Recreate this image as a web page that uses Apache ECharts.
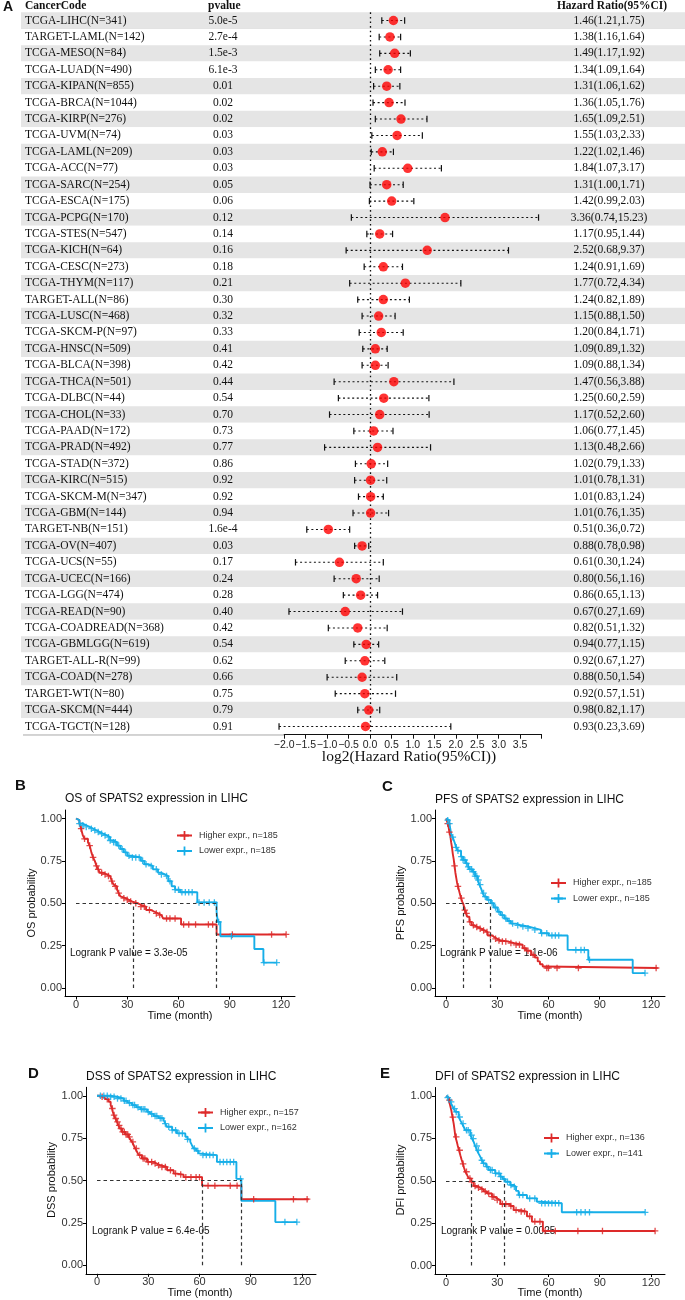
<!DOCTYPE html>
<html><head><meta charset="utf-8">
<script src="https://cdn.jsdelivr.net/npm/echarts@6/dist/echarts.min.js"></script>
<style>html,body{margin:0;padding:0;background:#fff}#c{width:685px;height:1300px}</style>
</head><body><div id="c"></div>
<script>
// ---------- Forest plot data ----------
const cancerCodes = ["TCGA-LIHC(N=341)","TARGET-LAML(N=142)","TCGA-MESO(N=84)","TCGA-LUAD(N=490)","TCGA-KIPAN(N=855)","TCGA-BRCA(N=1044)","TCGA-KIRP(N=276)","TCGA-UVM(N=74)","TCGA-LAML(N=209)","TCGA-ACC(N=77)","TCGA-SARC(N=254)","TCGA-ESCA(N=175)","TCGA-PCPG(N=170)","TCGA-STES(N=547)","TCGA-KICH(N=64)","TCGA-CESC(N=273)","TCGA-THYM(N=117)","TARGET-ALL(N=86)","TCGA-LUSC(N=468)","TCGA-SKCM-P(N=97)","TCGA-HNSC(N=509)","TCGA-BLCA(N=398)","TCGA-THCA(N=501)","TCGA-DLBC(N=44)","TCGA-CHOL(N=33)","TCGA-PAAD(N=172)","TCGA-PRAD(N=492)","TCGA-STAD(N=372)","TCGA-KIRC(N=515)","TCGA-SKCM-M(N=347)","TCGA-GBM(N=144)","TARGET-NB(N=151)","TCGA-OV(N=407)","TCGA-UCS(N=55)","TCGA-UCEC(N=166)","TCGA-LGG(N=474)","TCGA-READ(N=90)","TCGA-COADREAD(N=368)","TCGA-GBMLGG(N=619)","TARGET-ALL-R(N=99)","TCGA-COAD(N=278)","TARGET-WT(N=80)","TCGA-SKCM(N=444)","TCGA-TGCT(N=128)"];
const pvalues = ["5.0e-5","2.7e-4","1.5e-3","6.1e-3","0.01","0.02","0.02","0.03","0.03","0.03","0.05","0.06","0.12","0.14","0.16","0.18","0.21","0.30","0.32","0.33","0.41","0.42","0.44","0.54","0.70","0.73","0.77","0.86","0.92","0.92","0.94","1.6e-4","0.03","0.17","0.24","0.28","0.40","0.42","0.54","0.62","0.66","0.75","0.79","0.91"];
const hr   = [1.46,1.38,1.49,1.34,1.31,1.36,1.65,1.55,1.22,1.84,1.31,1.42,3.36,1.17,2.52,1.24,1.77,1.24,1.15,1.20,1.09,1.09,1.47,1.25,1.17,1.06,1.13,1.02,1.01,1.01,1.01,0.51,0.88,0.61,0.80,0.86,0.67,0.82,0.94,0.92,0.88,0.92,0.98,0.93];
const hrLo = [1.21,1.16,1.17,1.09,1.06,1.05,1.09,1.03,1.02,1.07,1.00,0.99,0.74,0.95,0.68,0.91,0.72,0.82,0.88,0.84,0.89,0.88,0.56,0.60,0.52,0.77,0.48,0.79,0.78,0.83,0.76,0.36,0.78,0.30,0.56,0.65,0.27,0.51,0.77,0.67,0.50,0.57,0.82,0.23];
const hrHi = [1.75,1.64,1.92,1.64,1.62,1.76,2.51,2.33,1.46,3.17,1.71,2.03,15.23,1.44,9.37,1.69,4.34,1.89,1.50,1.71,1.32,1.34,3.88,2.59,2.60,1.45,2.66,1.33,1.31,1.24,1.35,0.72,0.98,1.24,1.16,1.13,1.69,1.32,1.15,1.27,1.54,1.51,1.17,3.69];
const hrText = hr.map((v,i)=>v.toFixed(2)+"("+hrLo[i].toFixed(2)+","+hrHi[i].toFixed(2)+")");
const forestTicks = [-2.0,-1.5,-1.0,-0.5,0.0,0.5,1.0,1.5,2.0,2.5,3.0,3.5,4.0];
const forestTickLabels = ["\u22122.0","\u22121.5","\u22121.0","\u22120.5","0.0","0.5","1.0","1.5","2.0","2.5","3.0","3.5",""];

// ---------- KM data: [time(month), survival] step points ----------
const osHigh = [[0,1],[1,0.99],[2,0.97],[3,0.94],[4,0.9],[5,0.88],[7,0.86],[8,0.84],[9,0.8],[10,0.77],[11,0.75],[12,0.72],[13,0.7],[14,0.68],[16,0.67],[18,0.66],[20,0.65],[21,0.63],[22,0.61],[23,0.6],[24,0.58],[25,0.56],[26,0.54],[27,0.53],[29,0.52],[31,0.51],[33,0.5],[36,0.49],[38,0.48],[41,0.46],[44,0.45],[46,0.44],[48,0.43],[50,0.42],[51,0.41],[61.5,0.375],[82.3,0.316],[123,0.316]];
const osLow = [[0,1],[1,0.99],[2,0.97],[4,0.96],[6,0.95],[8,0.94],[10,0.93],[12,0.92],[14,0.91],[16,0.9],[18,0.89],[20,0.87],[22,0.86],[24,0.84],[26,0.82],[28,0.8],[30,0.78],[32,0.77],[38,0.75],[40,0.73],[42,0.72],[45,0.7],[48,0.68],[50,0.67],[52,0.66],[54,0.63],[56,0.6],[58,0.58],[61,0.565],[71,0.505],[82.3,0.45],[83,0.39],[84.5,0.305],[104.4,0.23],[109.7,0.15],[117.5,0.15]];
const osHighCens = [3,5,8,10,12,13,15,17,19,21,23,25,28,30,32,35,38,40,43,47,49,53,55,58,63,66,70,77.5,80,91.5,114.5,123];
const osLowCens = [2,4,6,9,11,13,15,17,19,20,22,23,25,27,29,31,33,35,37,39,41,44,47,50,53,55,58,60,62,64,66,68,72,75,78,81,83.5,91,110,117.5];
const pfsHigh = [[0,1],[1,0.97],[1.5,0.95],[2,0.92],[2.5,0.9],[3,0.86],[3.5,0.83],[4,0.79],[4.5,0.76],[5,0.72],[5.5,0.68],[6,0.65],[6.5,0.62],[7,0.6],[8,0.56],[8.8,0.53],[9.5,0.51],[10.3,0.49],[11,0.46],[11.7,0.44],[12.5,0.42],[13.7,0.39],[15,0.37],[16.6,0.36],[18.5,0.35],[20.5,0.34],[22.5,0.33],[24.4,0.31],[27,0.3],[28.3,0.29],[30,0.28],[32.2,0.275],[36,0.265],[40,0.255],[44.9,0.235],[47,0.22],[49.8,0.196],[52,0.18],[53.7,0.157],[55,0.14],[56.6,0.127],[58,0.118],[123.9,0.118]];
const pfsLow = [[0,1],[1,0.99],[2,0.97],[2.5,0.94],[3,0.91],[3.9,0.89],[5,0.86],[5.9,0.83],[7,0.81],[8.8,0.775],[10,0.755],[11.7,0.735],[13,0.715],[14,0.7],[15.6,0.686],[17,0.66],[18.5,0.637],[19.5,0.61],[20.5,0.588],[21.5,0.56],[22.4,0.539],[24,0.52],[26.3,0.5],[28,0.475],[30.2,0.45],[32,0.43],[34.1,0.41],[36,0.395],[38,0.38],[41,0.37],[43.9,0.363],[48,0.353],[51.7,0.343],[55.6,0.323],[60,0.31],[71.2,0.225],[83.3,0.167],[109.3,0.088],[116.5,0.088]];
const pfsHighCens = [1,2,5,7,9,11,12,14,16,18,20,22,24,26,29,31,33,35,38,41,43,46,48,51,59,60,65,77.5,123];
const pfsLowCens = [1,2,4,6,7,9,10,11,12,13,14,15,16,17,18,19,20,22,23,25,27,29,31,33,35,37,39,42,45,48,52,56,59,62,64,66,76,79,81,84,116.5];
const dssHigh = [[0,1],[2,0.994],[4,0.985],[5,0.98],[6.8,0.965],[8,0.945],[8.8,0.925],[9.3,0.905],[9.8,0.886],[10.8,0.866],[11.7,0.846],[12.5,0.826],[13.3,0.807],[14.6,0.787],[16.5,0.772],[18.5,0.758],[19.5,0.743],[20.5,0.728],[21.5,0.708],[22.4,0.689],[23.4,0.67],[24.4,0.65],[26.3,0.63],[29.3,0.61],[33.2,0.6],[35,0.59],[37.1,0.58],[41,0.561],[44.9,0.541],[47,0.535],[50.7,0.52],[61.5,0.47],[84.5,0.39],[123.9,0.39]];
const dssLow = [[0,1],[7.8,0.994],[11.7,0.984],[15.6,0.97],[18,0.958],[20.5,0.945],[23,0.932],[25.4,0.92],[29.3,0.905],[31,0.893],[33.2,0.88],[36,0.868],[39,0.856],[40,0.836],[41,0.817],[44,0.797],[46.8,0.778],[51.7,0.758],[53,0.743],[54.6,0.728],[55.5,0.71],[56.6,0.689],[58,0.675],[59.5,0.66],[60.5,0.65],[70.2,0.61],[81.6,0.51],[84.5,0.38],[104.4,0.255],[117,0.255]];
const dssHighCens = [3,6,9,10,11,12,13,14,15,16,17,18,19,21,23,25,27,28,30,32,34,36,38,40,43,46,49,52,55,58,60,65,69,78,82,91.7,115,123];
const dssLowCens = [2,4,6,8,10,12,14,16,17,19,21,22,24,26,27,28,30,32,34,35,37,38,40,42,44,46,48,50,53,57,59,62,64,66,68,72,74,76,78,80,84,110,117];
const dfiHigh = [[0,1],[1,0.99],[1.6,0.975],[2.3,0.95],[3.1,0.916],[3.8,0.875],[4.5,0.837],[5,0.8],[5.5,0.759],[6.2,0.735],[6.8,0.71],[7.6,0.68],[8.4,0.65],[9.1,0.625],[9.9,0.6],[10.6,0.575],[11.3,0.553],[12.3,0.535],[13.3,0.514],[14.8,0.494],[16.2,0.469],[18,0.459],[20.1,0.449],[22,0.437],[24,0.425],[26.9,0.406],[28.5,0.396],[29.8,0.386],[31.8,0.363],[37.6,0.351],[39.6,0.327],[43.5,0.318],[47.4,0.29],[50.3,0.259],[56.7,0.204],[122.4,0.204]];
const dfiLow = [[0,1],[1,0.99],[1.6,0.984],[2.5,0.965],[3.5,0.945],[4.5,0.925],[5.5,0.906],[7.4,0.876],[8.4,0.856],[9.4,0.837],[10.4,0.817],[11.3,0.798],[14.2,0.769],[15.2,0.749],[16.2,0.729],[17.1,0.705],[18.1,0.68],[19.1,0.66],[20.1,0.641],[21,0.621],[22,0.602],[23.5,0.583],[24.9,0.563],[28.8,0.543],[31.8,0.524],[33.2,0.51],[34.7,0.494],[37.6,0.475],[39.6,0.465],[41,0.44],[42.5,0.416],[47.4,0.396],[53.2,0.376],[55.2,0.367],[67.8,0.314],[116.6,0.314]];
const dfiHighCens = [2,4,6,8,10,12,14,15,17,19,21,23,25,27,28,30,33,35,38,41,44,46,49,52,55,58,64,77.2,91.6,122.4];
const dfiLowCens = [1,3,5,6,8,10,12,13,15,16,18,19,21,22,24,26,27,29,31,32,34,36,38,40,43,45,49,52,56,58,60,62,64,66,76.5,79,81.5,84,116.6];

const kmTitles = ["OS of SPATS2 expression in LIHC","PFS of SPATS2 expression in LIHC","DSS of SPATS2 expression in LIHC","DFI of SPATS2 expression in LIHC"];
const kmYNames = ["OS probability","PFS probability","DSS probability","DFI probability"];
const kmHighNames = ["Higher expr., n=185","Higher expr., n=185","Higher expr., n=157","Higher expr., n=136"];
const kmLowNames = ["Lower expr., n=185","Lower expr., n=185","Lower expr., n=162","Lower expr., n=141"];
const kmLogrank = ["Logrank P value = 3.3e-05","Logrank P value = 1.1e-06","Logrank P value = 6.4e-05","Logrank P value = 0.0025"];
const kmMedians = [[33.5,82.3],[10.1,25.8],[61.5,84.5],[14.8,34.3]];
const kmXTicks = [0,30,60,90,120];
const kmYTicks = [0,0.25,0.5,0.75,1];
const panelLetters = ["A","B","C","D","E"];

// ---------- layout (positions / styles only) ----------
const SERIF = '"Liberation Serif","Times New Roman",serif';
const SANS = '"Liberation Sans",Arial,Helvetica,sans-serif';
const RED = '#dd2a2a', BLUE = '#16aee8';
const PLUS = 'path://M4,0H6V4H10V6H6V10H4V6H0V4H4Z';
const tblTop = 12.3, tblH = 722.4;
const kmLayout = [
  {left:65, top:810, letter:[15,786], title:[65,799], yname:[32,903], xname:[180,1016], leg:[176,831], lr:[70,953]},
  {left:435, top:810, letter:[382,787], title:[435,800], yname:[401,903], xname:[550,1016], leg:[550,878.5], lr:[440,953]},
  {left:86, top:1087.3, letter:[28,1074], title:[86,1077], yname:[52,1180], xname:[200,1293], leg:[197,1108], lr:[92,1231.5]},
  {left:435, top:1087.5, letter:[380,1074], title:[435,1077], yname:[401,1180], xname:[550,1293], leg:[543,1133.5], lr:[441,1231.5]}
];
const kmCurves = [[osHigh,osLow,osHighCens,osLowCens],[pfsHigh,pfsLow,pfsHighCens,pfsLowCens],[dssHigh,dssLow,dssHighCens,dssLowCens],[dfiHigh,dfiLow,dfiHighCens,dfiLowCens]];

function stepAt(curve, t){ let s = curve[0][1]; for (const p of curve){ if (p[0] <= t) s = p[1]; else break; } return s; }

const grid = [
  {left:21, right:0, top:tblTop, height:tblH},
  {left:223, width:1, top:tblTop, height:tblH},
  {left:609, width:1, top:tblTop, height:tblH},
  {left:284.2, width:257.4, top:tblTop, height:tblH}
];
const xAxis = [
  {gridIndex:0, type:'value', min:0, max:1, show:false},
  {gridIndex:1, type:'value', min:0, max:1, show:false},
  {gridIndex:2, type:'value', min:0, max:1, show:false},
  {gridIndex:3, type:'value', min:-2, max:4, position:'bottom',
   axisLine:{show:true, onZero:false, lineStyle:{color:'#111', width:1}},
   axisTick:{show:true, length:4, customValues:forestTicks, lineStyle:{color:'#111'}},
   splitLine:{show:false},
   axisLabel:{show:true, customValues:forestTicks, showMinLabel:true, showMaxLabel:true, hideOverlap:false,
     margin:5, fontFamily:SANS, fontSize:10.5, color:'#222',
     formatter:v=>{ const i = forestTicks.findIndex(t=>Math.abs(t-v)<1e-6); return i>=0 ? forestTickLabels[i] : ''; }}}
];
const catY = (gi, data, align, margin, extra) => Object.assign({gridIndex:gi, type:'category', data, inverse:true,
  axisLine:{show:false}, axisTick:{show:false},
  axisLabel:{inside:true, interval:0, align, margin, fontFamily:SERIF, fontSize:11.5, color:'#111'}}, extra||{});
const yAxis = [
  catY(0, cancerCodes, 'left', 4, {splitArea:{show:true, areaStyle:{color:['#e5e5e5','#ffffff']}}}),
  catY(1, pvalues, 'center', 0),
  catY(2, hrText, 'center', 0),
  {gridIndex:3, type:'category', data:cancerCodes, inverse:true, axisLine:{show:false}, axisTick:{show:false}, axisLabel:{show:false}}
];
const series = [
  {type:'custom', xAxisIndex:3, yAxisIndex:3, z:3,
   data: cancerCodes.map((n,i)=>[Math.log2(hrLo[i]), Math.log2(hrHi[i]), i]),
   encode:{x:[0,1], y:2},
   renderItem:(params, api)=>{
     const a = api.coord([api.value(0), api.value(2)]);
     const b = api.coord([api.value(1), api.value(2)]);
     const y = a[1], h = 3.2;
     return {type:'group', children:[
       {type:'line', shape:{x1:a[0], y1:y, x2:b[0], y2:y}, style:{stroke:'#111', lineWidth:1.1, lineDash:[2,2.6]}},
       {type:'line', shape:{x1:a[0], y1:y-h, x2:a[0], y2:y+h}, style:{stroke:'#111', lineWidth:1.2}},
       {type:'line', shape:{x1:b[0], y1:y-h, x2:b[0], y2:y+h}, style:{stroke:'#111', lineWidth:1.2}}
     ]};
   }},
  {type:'scatter', xAxisIndex:3, yAxisIndex:3, z:5, symbolSize:9.5,
   itemStyle:{color:'#ff0000'},
   data: cancerCodes.map((n,i)=>[Math.log2(hr[i]), i]),
   markLine:{silent:true, symbol:'none', label:{show:false}, z:1,
     lineStyle:{color:'#111', type:[1.6,3], width:1.3}, data:[{xAxis:0}]}}
];
const legend = [];
const graphic = [];
const txt = (x,y,text,font,align,extra)=>Object.assign({type:'text', x, y, style:{text, font, fill:'#111', align:align||'left', verticalAlign:'middle'}}, extra||{});

kmLayout.forEach((L,k)=>{
  const gi = 4+k;
  grid.push({left:L.left, top:L.top, width:230, height:186.5});
  xAxis.push({gridIndex:gi, type:'value', min:-6.44, max:128.2,
    axisLine:{show:true, onZero:false, lineStyle:{color:'#000', width:1}}, axisTick:{show:true, length:3, customValues:kmXTicks, lineStyle:{color:'#000'}},
    splitLine:{show:false},
    axisLabel:{customValues:kmXTicks, margin:3, fontFamily:SANS, fontSize:11, color:'#333'}});
  yAxis.push({gridIndex:gi, type:'value', min:-0.05, max:1.05,
    axisLine:{show:true, onZero:false, lineStyle:{color:'#000', width:1}}, axisTick:{show:true, length:3, customValues:kmYTicks, lineStyle:{color:'#000'}},
    splitLine:{show:false},
    axisLabel:{customValues:kmYTicks, margin:3, fontFamily:SANS, fontSize:11, color:'#333', formatter:v=>v.toFixed(2)}});
  const [hi, lo, hiC, loC] = kmCurves[k];
  const med = kmMedians[k];
  series.push({type:'line', name:kmHighNames[k], xAxisIndex:gi, yAxisIndex:gi, step:'end', data:hi,
    showSymbol:false, symbol:PLUS, symbolSize:8, lineStyle:{color:RED, width:1.9}, itemStyle:{color:RED}, z:3,
    markLine:{silent:true, symbol:'none', label:{show:false}, lineStyle:{color:'#333', type:[3.5,3], width:1.2},
      data:[[{coord:[0,0.5]},{coord:[med[1],0.5]}],[{coord:[med[0],0]},{coord:[med[0],0.5]}],[{coord:[med[1],0]},{coord:[med[1],0.5]}]]}});
  series.push({type:'line', name:kmLowNames[k], xAxisIndex:gi, yAxisIndex:gi, step:'end', data:lo,
    showSymbol:false, symbol:PLUS, symbolSize:8, lineStyle:{color:BLUE, width:1.9}, itemStyle:{color:BLUE}, z:3});
  series.push({type:'scatter', xAxisIndex:gi, yAxisIndex:gi, symbol:PLUS, symbolSize:6.5, z:4,
    itemStyle:{color:RED, opacity:0.85}, data:hiC.map(t=>[t, stepAt(hi,t)])});
  series.push({type:'scatter', xAxisIndex:gi, yAxisIndex:gi, symbol:PLUS, symbolSize:6.5, z:4,
    itemStyle:{color:BLUE, opacity:0.85}, data:loC.map(t=>[t, stepAt(lo,t)])});
  legend.push({left:L.leg[0], top:L.leg[1], orient:'vertical', padding:0, itemWidth:15, itemHeight:11, itemGap:6.5,
    selectedMode:false, data:[kmHighNames[k], kmLowNames[k]],
    textStyle:{fontFamily:SANS, fontSize:9, color:'#333', padding:[0,0,0,2]}});
  graphic.push(txt(L.letter[0], L.letter[1], panelLetters[k+1], 'bold 15px '+SANS));
  graphic.push(txt(L.title[0], L.title[1], kmTitles[k], '12px '+SANS));
  graphic.push(txt(L.yname[0], L.yname[1], kmYNames[k], '11px '+SANS, 'center', {rotation:Math.PI/2}));
  graphic.push(txt(L.xname[0], L.xname[1], 'Time (month)', '11px '+SANS, 'center'));
  graphic.push(txt(L.lr[0], L.lr[1], kmLogrank[k], '10px '+SANS));
});

// forest headers and lines
graphic.push(txt(3, 7, panelLetters[0], 'bold 14px '+SANS));
graphic.push(txt(25, 6, 'CancerCode', 'bold 11.5px '+SERIF));
graphic.push(txt(208, 6, 'pvalue', 'bold 11.5px '+SERIF));
graphic.push(txt(612, 6, 'Hazard Ratio(95%CI)', 'bold 11.5px '+SERIF, 'center'));
graphic.push(txt(409, 757, 'log2(Hazard Ratio(95%CI))', '15.5px '+SERIF, 'center'));
graphic.push({type:'line', shape:{x1:21, y1:29.2, x2:685, y2:29.2}, style:{stroke:'#222', lineWidth:1}});
graphic.push({type:'line', shape:{x1:23, y1:734.7, x2:285, y2:734.7}, style:{stroke:'#222', lineWidth:1}});

const chart = echarts.init(document.getElementById('c'), null, {renderer:'canvas'});
chart.setOption({animation:false, backgroundColor:'#fff', grid, xAxis, yAxis, series, legend, graphic});
</script></body></html>
